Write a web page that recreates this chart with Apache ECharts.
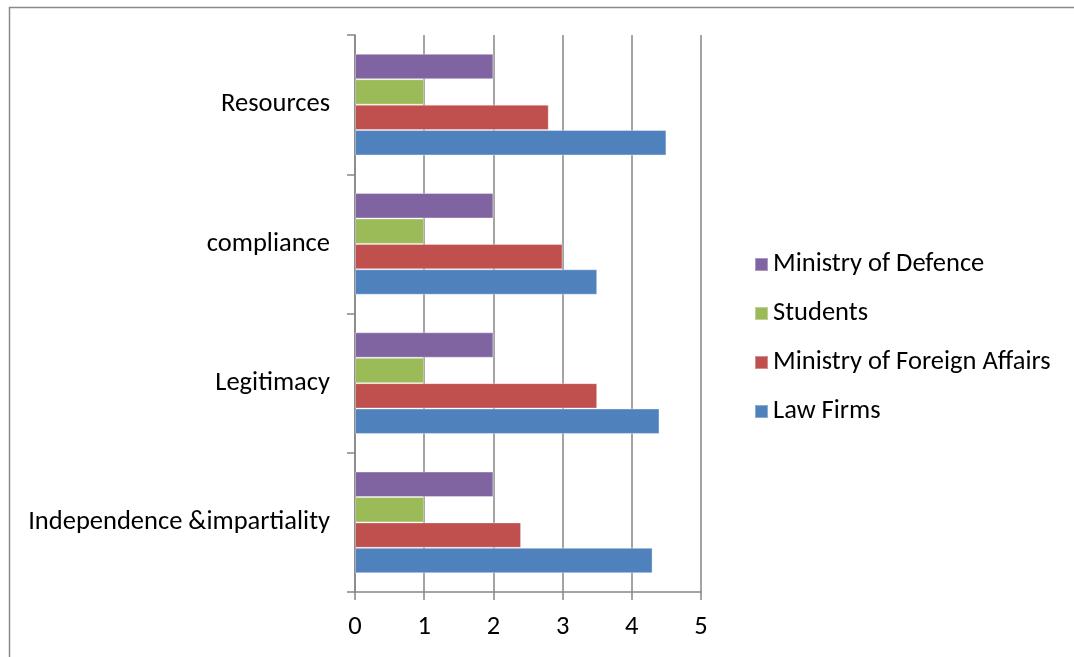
<!DOCTYPE html>
<html><head><meta charset="utf-8">
<script src="https://cdn.jsdelivr.net/npm/echarts@6/dist/echarts.min.js"></script>
<style>html,body{margin:0;padding:0;background:#fff}#c{width:1074px;height:657px}</style>
</head><body><div id="c"></div>
<script>
const categories = ['Independence &impartiality', 'Legitimacy', 'compliance', 'Resources'];
const lawFirms = [4.3, 4.4, 3.5, 4.5];
const ministryForeignAffairs = [2.4, 3.5, 3.0, 2.8];
const students = [1, 1, 1, 1];
const ministryDefence = [2, 2, 2, 2];
const xTicks = [0, 1, 2, 3, 4, 5];

const FONT = "Carlito, 'Open Sans', sans-serif";
const FS = 26.5;
const chart = echarts.init(document.getElementById('c'), null, {renderer: 'canvas'});
const mk = (name, data, color) => ({
  name, type: 'bar', data, barGap: '0%', barCategoryGap: '27%',
  itemStyle: {color, borderColor: 'rgba(255,255,255,0.35)', borderWidth: 1}
});
chart.setOption({
  animation: false,
  graphic: [{type: 'rect', shape: {x: 9.5, y: 7.5, width: 1200, height: 800},
    style: {fill: 'none', stroke: '#8a8a8a', lineWidth: 1.5}, silent: true}],
  grid: {left: 355, right: 373, top: 35, bottom: 65},
  legend: {
    orient: 'vertical', left: 749, top: 246,
    data: ['Ministry of Defence', 'Students', 'Ministry of Foreign Affairs', 'Law Firms'],
    icon: 'rect', itemWidth: 13, itemHeight: 13, itemGap: 22,
    textStyle: {fontFamily: FONT, fontSize: FS, color: '#000', lineHeight: 26}
  },
  xAxis: {
    type: 'value', min: xTicks[0], max: xTicks[xTicks.length - 1], interval: 1,
    axisLine: {show: true, lineStyle: {color: '#868686', width: 1.5}},
    axisTick: {show: true, length: 8, lineStyle: {color: '#868686', width: 1.5}},
    splitLine: {show: true, lineStyle: {color: '#868686', width: 1.5}},
    axisLabel: {fontFamily: FONT, fontSize: FS, color: '#000', margin: 22}
  },
  yAxis: {
    type: 'category', data: categories,
    axisLine: {show: true, lineStyle: {color: '#868686', width: 1.5}},
    axisTick: {show: true, length: 8, lineStyle: {color: '#868686', width: 1.5}},
    axisLabel: {fontFamily: FONT, fontSize: FS, color: '#000', margin: 25}
  },
  series: [
    mk('Ministry of Defence', ministryDefence, '#8064A2'),
    mk('Students', students, '#9BBB59'),
    mk('Ministry of Foreign Affairs', ministryForeignAffairs, '#C0504D'),
    mk('Law Firms', lawFirms, '#4F81BD')
  ]
});
</script></body></html>
